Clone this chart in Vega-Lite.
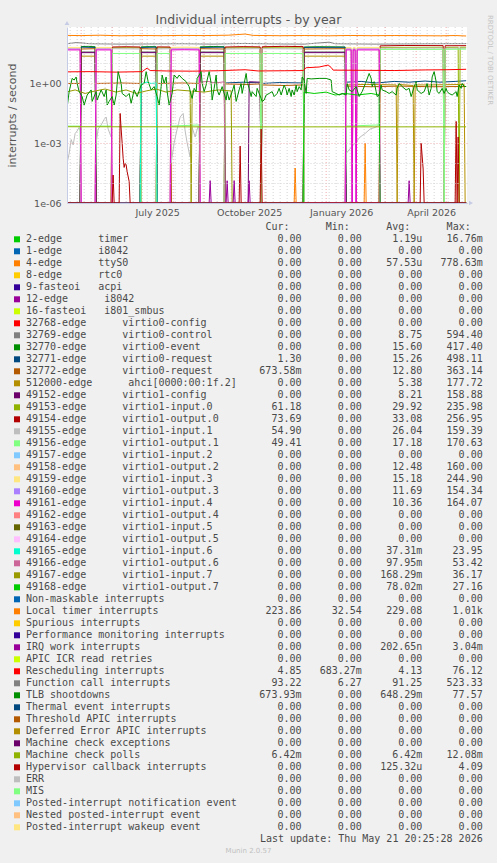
{
"$schema": "https://vega.github.io/schema/vega-lite/v6.json",
"autosize": {"type": "none"},
"width": 400,
"height": 176,
"padding": {"left": 67, "top": 27, "right": 30, "bottom": 660},
"background": "#f0f0f0",
"config": {"view": {"fill": "#ffffff", "stroke": null}, "font": "DejaVu Sans"},
"datasets": {
"weeks": [{"t":"2025-04-20"},{"t":"2025-04-27"},{"t":"2025-05-04"},{"t":"2025-05-11"},{"t":"2025-05-18"},{"t":"2025-05-25"},{"t":"2025-06-01"},{"t":"2025-06-08"},{"t":"2025-06-15"},{"t":"2025-06-22"},{"t":"2025-06-29"},{"t":"2025-07-06"},{"t":"2025-07-13"},{"t":"2025-07-20"},{"t":"2025-07-27"},{"t":"2025-08-03"},{"t":"2025-08-10"},{"t":"2025-08-17"},{"t":"2025-08-24"},{"t":"2025-08-31"},{"t":"2025-09-07"},{"t":"2025-09-14"},{"t":"2025-09-21"},{"t":"2025-09-28"},{"t":"2025-10-05"},{"t":"2025-10-12"},{"t":"2025-10-19"},{"t":"2025-10-26"},{"t":"2025-11-02"},{"t":"2025-11-09"},{"t":"2025-11-16"},{"t":"2025-11-23"},{"t":"2025-11-30"},{"t":"2025-12-07"},{"t":"2025-12-14"},{"t":"2025-12-21"},{"t":"2025-12-28"},{"t":"2026-01-04"},{"t":"2026-01-11"},{"t":"2026-01-18"},{"t":"2026-01-25"},{"t":"2026-02-01"},{"t":"2026-02-08"},{"t":"2026-02-15"},{"t":"2026-02-22"},{"t":"2026-03-01"},{"t":"2026-03-08"},{"t":"2026-03-15"},{"t":"2026-03-22"},{"t":"2026-03-29"},{"t":"2026-04-05"},{"t":"2026-04-12"},{"t":"2026-04-19"},{"t":"2026-04-26"},{"t":"2026-05-03"},{"t":"2026-05-10"},{"t":"2026-05-17"}],
"months": [{"t":"2025-05-01"},{"t":"2025-06-01"},{"t":"2025-07-01"},{"t":"2025-08-01"},{"t":"2025-09-01"},{"t":"2025-10-01"},{"t":"2025-11-01"},{"t":"2025-12-01"},{"t":"2026-01-01"},{"t":"2026-02-01"},{"t":"2026-03-01"},{"t":"2026-04-01"},{"t":"2026-05-01"}],
"series": [
{"s":"TTY","t":"2025-04-16","v":0},{"s":"TTY","t":"2025-11-30","v":0},{"s":"TTY","t":"2025-12-01","v":5.6e-5},{"s":"TTY","t":"2025-12-02","v":0},{"s":"TTY","t":"2026-02-08","v":0},{"s":"TTY","t":"2026-02-09","v":1e-3},{"s":"TTY","t":"2026-02-10","v":0},{"s":"TTY","t":"2026-05-21","v":0},

{"s":"CTL","t":"2025-04-16","v":0},{"s":"CTL","t":"2025-04-30","v":0},{"s":"CTL","t":"2025-05-01","v":36},{"s":"CTL","t":"2025-05-15","v":36},{"s":"CTL","t":"2025-05-16","v":0},{"s":"CTL","t":"2025-06-29","v":0},{"s":"CTL","t":"2025-06-30","v":36},{"s":"CTL","t":"2025-07-15","v":36},{"s":"CTL","t":"2025-07-16","v":0},{"s":"CTL","t":"2025-08-27","v":0},{"s":"CTL","t":"2025-08-28","v":36},{"s":"CTL","t":"2025-09-21","v":36},{"s":"CTL","t":"2025-09-22","v":0},{"s":"CTL","t":"2025-12-09","v":0},{"s":"CTL","t":"2025-12-10","v":36},{"s":"CTL","t":"2026-01-20","v":36},{"s":"CTL","t":"2026-01-21","v":0},{"s":"CTL","t":"2026-05-21","v":0},

{"s":"EV","t":"2025-04-16","v":0},{"s":"EV","t":"2025-04-30","v":0},{"s":"EV","t":"2025-05-01","v":66},{"s":"EV","t":"2025-05-08","v":68},{"s":"EV","t":"2025-05-15","v":65},{"s":"EV","t":"2025-05-16","v":0},{"s":"EV","t":"2025-06-29","v":0},{"s":"EV","t":"2025-06-30","v":64},{"s":"EV","t":"2025-07-08","v":66},{"s":"EV","t":"2025-07-15","v":65},{"s":"EV","t":"2025-07-16","v":0},{"s":"EV","t":"2025-08-27","v":0},{"s":"EV","t":"2025-08-28","v":64},{"s":"EV","t":"2025-09-10","v":67},{"s":"EV","t":"2025-09-21","v":65},{"s":"EV","t":"2025-09-22","v":0},{"s":"EV","t":"2025-12-09","v":0},{"s":"EV","t":"2025-12-10","v":63},{"s":"EV","t":"2025-12-25","v":65},{"s":"EV","t":"2026-01-10","v":64},{"s":"EV","t":"2026-01-20","v":63},{"s":"EV","t":"2026-01-21","v":0},{"s":"EV","t":"2026-05-21","v":0},

{"s":"RQ","t":"2025-04-16","v":0},{"s":"RQ","t":"2025-04-30","v":0},{"s":"RQ","t":"2025-05-01","v":62},{"s":"RQ","t":"2025-05-15","v":60},{"s":"RQ","t":"2025-05-16","v":0},{"s":"RQ","t":"2025-06-29","v":0},{"s":"RQ","t":"2025-06-30","v":60},{"s":"RQ","t":"2025-07-15","v":62},{"s":"RQ","t":"2025-07-16","v":0},{"s":"RQ","t":"2025-08-27","v":0},{"s":"RQ","t":"2025-08-28","v":60},{"s":"RQ","t":"2025-09-21","v":62},{"s":"RQ","t":"2025-09-22","v":1.0},{"s":"RQ","t":"2025-10-10","v":1.1},{"s":"RQ","t":"2025-10-27","v":1.0},{"s":"RQ","t":"2025-10-28","v":0},{"s":"RQ","t":"2025-10-29","v":0.95},{"s":"RQ","t":"2025-11-15","v":1.05},{"s":"RQ","t":"2025-12-09","v":1.0},{"s":"RQ","t":"2025-12-10","v":60},{"s":"RQ","t":"2026-01-20","v":61},{"s":"RQ","t":"2026-01-21","v":1.1},{"s":"RQ","t":"2026-02-05","v":1.2},{"s":"RQ","t":"2026-02-20","v":1.0},{"s":"RQ","t":"2026-03-10","v":1.2},{"s":"RQ","t":"2026-03-25","v":1.1},{"s":"RQ","t":"2026-04-10","v":1.25},{"s":"RQ","t":"2026-04-25","v":1.1},{"s":"RQ","t":"2026-05-10","v":1.2},{"s":"RQ","t":"2026-05-21","v":1.3},

{"s":"R2","t":"2025-04-16","v":0.95},{"s":"R2","t":"2025-04-30","v":0.95},{"s":"R2","t":"2025-05-01","v":50},{"s":"R2","t":"2025-05-15","v":52},{"s":"R2","t":"2025-05-16","v":0.95},{"s":"R2","t":"2025-06-10","v":1.0},{"s":"R2","t":"2025-06-29","v":0.95},{"s":"R2","t":"2025-06-30","v":52},{"s":"R2","t":"2025-07-15","v":50},{"s":"R2","t":"2025-07-16","v":0.95},{"s":"R2","t":"2025-08-10","v":1.0},{"s":"R2","t":"2025-08-27","v":0.95},{"s":"R2","t":"2025-08-28","v":52},{"s":"R2","t":"2025-09-21","v":50},{"s":"R2","t":"2025-09-22","v":0.9},{"s":"R2","t":"2025-10-15","v":0.85},{"s":"R2","t":"2025-10-27","v":0.9},{"s":"R2","t":"2025-10-28","v":0},{"s":"R2","t":"2025-10-29","v":0.8},{"s":"R2","t":"2025-11-20","v":0.75},{"s":"R2","t":"2025-12-09","v":0.8},{"s":"R2","t":"2025-12-10","v":50},{"s":"R2","t":"2026-01-20","v":52},{"s":"R2","t":"2026-01-21","v":0.7},{"s":"R2","t":"2026-02-15","v":0.65},{"s":"R2","t":"2026-03-15","v":0.7},{"s":"R2","t":"2026-04-15","v":0.65},{"s":"R2","t":"2026-05-21","v":0.67},

{"s":"AHCI","t":"2025-04-16","v":0},{"s":"AHCI","t":"2025-04-30","v":0},{"s":"AHCI","t":"2025-05-01","v":22},{"s":"AHCI","t":"2025-05-15","v":22},{"s":"AHCI","t":"2025-05-16","v":0},{"s":"AHCI","t":"2025-06-29","v":0},{"s":"AHCI","t":"2025-06-30","v":22},{"s":"AHCI","t":"2025-07-15","v":22},{"s":"AHCI","t":"2025-07-16","v":0},{"s":"AHCI","t":"2025-08-27","v":0},{"s":"AHCI","t":"2025-08-28","v":22},{"s":"AHCI","t":"2025-09-21","v":22},{"s":"AHCI","t":"2025-09-22","v":0},{"s":"AHCI","t":"2025-12-09","v":0},{"s":"AHCI","t":"2025-12-10","v":22},{"s":"AHCI","t":"2026-01-20","v":22},{"s":"AHCI","t":"2026-01-21","v":0.8},{"s":"AHCI","t":"2026-02-10","v":0.85},{"s":"AHCI","t":"2026-03-12","v":0.8},{"s":"AHCI","t":"2026-03-13","v":0},{"s":"AHCI","t":"2026-03-14","v":0.85},{"s":"AHCI","t":"2026-03-29","v":0.75},{"s":"AHCI","t":"2026-03-30","v":0},{"s":"AHCI","t":"2026-03-31","v":0.8},{"s":"AHCI","t":"2026-04-15","v":0.8},{"s":"AHCI","t":"2026-05-19","v":0.85},{"s":"AHCI","t":"2026-05-20","v":0},{"s":"AHCI","t":"2026-05-21","v":0},

{"s":"CFG1","t":"2025-04-16","v":0},{"s":"CFG1","t":"2025-04-30","v":0},{"s":"CFG1","t":"2025-05-01","v":33},{"s":"CFG1","t":"2025-05-15","v":33},{"s":"CFG1","t":"2025-05-16","v":0},{"s":"CFG1","t":"2025-06-29","v":0},{"s":"CFG1","t":"2025-06-30","v":33},{"s":"CFG1","t":"2025-07-15","v":33},{"s":"CFG1","t":"2025-07-16","v":0},{"s":"CFG1","t":"2025-08-27","v":0},{"s":"CFG1","t":"2025-08-28","v":33},{"s":"CFG1","t":"2025-09-21","v":33},{"s":"CFG1","t":"2025-09-22","v":0},{"s":"CFG1","t":"2025-10-15","v":0},{"s":"CFG1","t":"2025-10-16","v":1.15},{"s":"CFG1","t":"2025-10-27","v":1.1},{"s":"CFG1","t":"2025-10-28","v":0},{"s":"CFG1","t":"2025-12-09","v":0},{"s":"CFG1","t":"2025-12-10","v":33},{"s":"CFG1","t":"2026-01-20","v":33},{"s":"CFG1","t":"2026-01-21","v":0},{"s":"CFG1","t":"2026-05-21","v":0},

{"s":"I0","t":"2025-04-16","v":0},{"s":"I0","t":"2025-05-31","v":0},{"s":"I0","t":"2025-06-01","v":57},{"s":"I0","t":"2025-06-15","v":58},{"s":"I0","t":"2025-06-29","v":57},{"s":"I0","t":"2025-06-30","v":0},{"s":"I0","t":"2025-07-15","v":0},{"s":"I0","t":"2025-07-16","v":57},{"s":"I0","t":"2025-07-29","v":58},{"s":"I0","t":"2025-07-30","v":0},{"s":"I0","t":"2025-09-21","v":0},{"s":"I0","t":"2025-09-22","v":57},{"s":"I0","t":"2025-10-27","v":58},{"s":"I0","t":"2025-10-28","v":0},{"s":"I0","t":"2025-10-29","v":58},{"s":"I0","t":"2025-12-09","v":57},{"s":"I0","t":"2025-12-10","v":0},{"s":"I0","t":"2026-02-23","v":0},{"s":"I0","t":"2026-02-24","v":60},{"s":"I0","t":"2026-04-28","v":61},{"s":"I0","t":"2026-04-29","v":0},{"s":"I0","t":"2026-04-30","v":60},{"s":"I0","t":"2026-05-13","v":61},{"s":"I0","t":"2026-05-14","v":0},{"s":"I0","t":"2026-05-15","v":61},{"s":"I0","t":"2026-05-21","v":61.2},

{"s":"O0","t":"2025-04-16","v":0},{"s":"O0","t":"2025-05-31","v":0},{"s":"O0","t":"2025-06-01","v":63},{"s":"O0","t":"2025-06-15","v":65},{"s":"O0","t":"2025-06-29","v":63},{"s":"O0","t":"2025-06-30","v":0},{"s":"O0","t":"2025-07-15","v":0},{"s":"O0","t":"2025-07-16","v":64},{"s":"O0","t":"2025-07-29","v":63},{"s":"O0","t":"2025-07-30","v":0},{"s":"O0","t":"2025-09-21","v":0},{"s":"O0","t":"2025-09-22","v":63},{"s":"O0","t":"2025-10-10","v":66},{"s":"O0","t":"2025-10-27","v":64},{"s":"O0","t":"2025-10-28","v":0},{"s":"O0","t":"2025-10-29","v":65},{"s":"O0","t":"2025-11-20","v":68},{"s":"O0","t":"2025-12-09","v":66},{"s":"O0","t":"2025-12-10","v":0},{"s":"O0","t":"2026-02-23","v":0},{"s":"O0","t":"2026-02-24","v":72},{"s":"O0","t":"2026-03-20","v":75},{"s":"O0","t":"2026-04-28","v":74},{"s":"O0","t":"2026-04-29","v":0},{"s":"O0","t":"2026-04-30","v":73},{"s":"O0","t":"2026-05-21","v":73.7},

{"s":"I1","t":"2025-04-16","v":0},{"s":"I1","t":"2025-04-17","v":1e-4},{"s":"I1","t":"2025-04-19","v":3e-4},{"s":"I1","t":"2025-04-21","v":1.5e-3},{"s":"I1","t":"2025-04-23","v":8e-4},{"s":"I1","t":"2025-04-25","v":3e-3},{"s":"I1","t":"2025-04-27","v":4e-3},{"s":"I1","t":"2025-04-29","v":6e-3},{"s":"I1","t":"2025-04-30","v":4e-3},{"s":"I1","t":"2025-05-01","v":0},{"s":"I1","t":"2025-05-15","v":0},{"s":"I1","t":"2025-05-16","v":1e-3},{"s":"I1","t":"2025-05-18","v":5e-3},{"s":"I1","t":"2025-05-21","v":8e-3},{"s":"I1","t":"2025-05-24","v":0.015},{"s":"I1","t":"2025-05-26","v":0.02},{"s":"I1","t":"2025-05-28","v":5e-3},{"s":"I1","t":"2025-05-31","v":2e-3},{"s":"I1","t":"2025-06-01","v":52},{"s":"I1","t":"2025-06-29","v":50},{"s":"I1","t":"2025-06-30","v":0},{"s":"I1","t":"2025-07-15","v":0},{"s":"I1","t":"2025-07-16","v":50},{"s":"I1","t":"2025-07-29","v":52},{"s":"I1","t":"2025-07-30","v":1e-4},{"s":"I1","t":"2025-08-02","v":1e-3},{"s":"I1","t":"2025-08-05","v":5e-3},{"s":"I1","t":"2025-08-08","v":0.02},{"s":"I1","t":"2025-08-11","v":0.03},{"s":"I1","t":"2025-08-13","v":4e-3},{"s":"I1","t":"2025-08-15","v":1e-3},{"s":"I1","t":"2025-08-18","v":2e-4},{"s":"I1","t":"2025-08-20","v":6e-3},{"s":"I1","t":"2025-08-23","v":2e-3},{"s":"I1","t":"2025-08-26","v":7e-3},{"s":"I1","t":"2025-08-27","v":5e-3},{"s":"I1","t":"2025-08-28","v":0},{"s":"I1","t":"2025-09-21","v":0},{"s":"I1","t":"2025-09-22","v":50},{"s":"I1","t":"2025-10-27","v":52},{"s":"I1","t":"2025-10-28","v":0},{"s":"I1","t":"2025-10-29","v":52},{"s":"I1","t":"2025-12-09","v":50},{"s":"I1","t":"2025-12-10","v":0},{"s":"I1","t":"2026-01-20","v":0},{"s":"I1","t":"2026-01-21","v":3e-4},{"s":"I1","t":"2026-01-26","v":6e-4},{"s":"I1","t":"2026-01-30","v":1e-3},{"s":"I1","t":"2026-02-04","v":2e-3},{"s":"I1","t":"2026-02-09","v":3e-3},{"s":"I1","t":"2026-02-14","v":5e-3},{"s":"I1","t":"2026-02-19","v":6e-3},{"s":"I1","t":"2026-02-23","v":8e-3},{"s":"I1","t":"2026-02-24","v":55},{"s":"I1","t":"2026-04-28","v":56},{"s":"I1","t":"2026-04-29","v":0},{"s":"I1","t":"2026-04-30","v":55},{"s":"I1","t":"2026-05-21","v":54.9},

{"s":"O1","t":"2025-04-16","v":0},{"s":"O1","t":"2025-04-17","v":0.007},{"s":"O1","t":"2025-04-30","v":0.007},{"s":"O1","t":"2025-05-01","v":0},{"s":"O1","t":"2025-05-15","v":0},{"s":"O1","t":"2025-05-16","v":0.007},{"s":"O1","t":"2025-05-31","v":0.007},{"s":"O1","t":"2025-06-01","v":30},{"s":"O1","t":"2025-06-29","v":30},{"s":"O1","t":"2025-06-30","v":0},{"s":"O1","t":"2025-07-15","v":0},{"s":"O1","t":"2025-07-16","v":30},{"s":"O1","t":"2025-07-29","v":30},{"s":"O1","t":"2025-07-30","v":0.007},{"s":"O1","t":"2025-08-27","v":0.008},{"s":"O1","t":"2025-08-28","v":0},{"s":"O1","t":"2025-09-21","v":0},{"s":"O1","t":"2025-09-22","v":30},{"s":"O1","t":"2025-10-27","v":30},{"s":"O1","t":"2025-10-28","v":0},{"s":"O1","t":"2025-10-29","v":30},{"s":"O1","t":"2025-12-09","v":30},{"s":"O1","t":"2025-12-10","v":0},{"s":"O1","t":"2026-01-20","v":0},{"s":"O1","t":"2026-01-21","v":0.007},{"s":"O1","t":"2026-02-23","v":0.008},{"s":"O1","t":"2026-02-24","v":48},{"s":"O1","t":"2026-04-28","v":48},{"s":"O1","t":"2026-04-29","v":0},{"s":"O1","t":"2026-04-30","v":48},{"s":"O1","t":"2026-05-21","v":49.4},

{"s":"O2","t":"2025-04-16","v":0},{"s":"O2","t":"2025-04-17","v":55},{"s":"O2","t":"2025-04-30","v":55},{"s":"O2","t":"2025-05-01","v":0},{"s":"O2","t":"2025-05-15","v":0},{"s":"O2","t":"2025-05-16","v":55},{"s":"O2","t":"2025-05-31","v":55},{"s":"O2","t":"2025-06-01","v":0},{"s":"O2","t":"2025-07-29","v":0},{"s":"O2","t":"2025-07-30","v":55},{"s":"O2","t":"2025-08-12","v":56},{"s":"O2","t":"2025-08-27","v":55},{"s":"O2","t":"2025-08-28","v":0},{"s":"O2","t":"2026-01-20","v":0},{"s":"O2","t":"2026-01-21","v":55},{"s":"O2","t":"2026-01-26","v":55},{"s":"O2","t":"2026-01-27","v":0},{"s":"O2","t":"2026-01-28","v":55},{"s":"O2","t":"2026-01-30","v":55},{"s":"O2","t":"2026-01-31","v":0},{"s":"O2","t":"2026-02-01","v":55},{"s":"O2","t":"2026-02-23","v":55},{"s":"O2","t":"2026-02-24","v":0},{"s":"O2","t":"2026-05-21","v":0},

{"s":"I3","t":"2025-04-16","v":0},{"s":"I3","t":"2025-04-17","v":60},{"s":"I3","t":"2025-04-30","v":60},{"s":"I3","t":"2025-05-01","v":0},{"s":"I3","t":"2025-05-15","v":0},{"s":"I3","t":"2025-05-16","v":60},{"s":"I3","t":"2025-05-31","v":60},{"s":"I3","t":"2025-06-01","v":0},{"s":"I3","t":"2025-07-29","v":0},{"s":"I3","t":"2025-07-30","v":60},{"s":"I3","t":"2025-08-12","v":62},{"s":"I3","t":"2025-08-27","v":60},{"s":"I3","t":"2025-08-28","v":0},{"s":"I3","t":"2026-01-20","v":0},{"s":"I3","t":"2026-01-21","v":60},{"s":"I3","t":"2026-01-26","v":60},{"s":"I3","t":"2026-01-27","v":0},{"s":"I3","t":"2026-01-28","v":60},{"s":"I3","t":"2026-01-30","v":60},{"s":"I3","t":"2026-01-31","v":0},{"s":"I3","t":"2026-02-01","v":60},{"s":"I3","t":"2026-02-23","v":60},{"s":"I3","t":"2026-02-24","v":0},{"s":"I3","t":"2026-05-21","v":0},

{"s":"O3","t":"2025-04-16","v":0},{"s":"O3","t":"2025-04-17","v":50},{"s":"O3","t":"2025-04-30","v":50},{"s":"O3","t":"2025-05-01","v":0},{"s":"O3","t":"2025-05-15","v":0},{"s":"O3","t":"2025-05-16","v":50},{"s":"O3","t":"2025-05-31","v":50},{"s":"O3","t":"2025-06-01","v":0},{"s":"O3","t":"2025-07-29","v":0},{"s":"O3","t":"2025-07-30","v":50},{"s":"O3","t":"2025-08-12","v":51},{"s":"O3","t":"2025-08-27","v":50},{"s":"O3","t":"2025-08-28","v":0},{"s":"O3","t":"2026-01-20","v":0},{"s":"O3","t":"2026-01-21","v":50},{"s":"O3","t":"2026-01-26","v":50},{"s":"O3","t":"2026-01-27","v":0},{"s":"O3","t":"2026-01-28","v":50},{"s":"O3","t":"2026-01-30","v":50},{"s":"O3","t":"2026-01-31","v":0},{"s":"O3","t":"2026-02-01","v":50},{"s":"O3","t":"2026-02-23","v":50},{"s":"O3","t":"2026-02-24","v":0},{"s":"O3","t":"2026-05-21","v":0},

{"s":"I4","t":"2025-04-16","v":0},{"s":"I4","t":"2025-04-17","v":45},{"s":"I4","t":"2025-04-30","v":45},{"s":"I4","t":"2025-05-01","v":0},{"s":"I4","t":"2025-05-15","v":0},{"s":"I4","t":"2025-05-16","v":45},{"s":"I4","t":"2025-05-31","v":45},{"s":"I4","t":"2025-06-01","v":0},{"s":"I4","t":"2025-07-29","v":0},{"s":"I4","t":"2025-07-30","v":45},{"s":"I4","t":"2025-08-12","v":46},{"s":"I4","t":"2025-08-27","v":45},{"s":"I4","t":"2025-08-28","v":0},{"s":"I4","t":"2026-01-20","v":0},{"s":"I4","t":"2026-01-21","v":45},{"s":"I4","t":"2026-01-26","v":45},{"s":"I4","t":"2026-01-27","v":0},{"s":"I4","t":"2026-01-28","v":45},{"s":"I4","t":"2026-01-30","v":45},{"s":"I4","t":"2026-01-31","v":0},{"s":"I4","t":"2026-02-01","v":45},{"s":"I4","t":"2026-02-23","v":45},{"s":"I4","t":"2026-02-24","v":0},{"s":"I4","t":"2026-05-21","v":0},

{"s":"I6","t":"2025-04-16","v":0},{"s":"I6","t":"2025-06-29","v":0},{"s":"I6","t":"2025-06-30","v":0.9},{"s":"I6","t":"2025-07-05","v":1.1},{"s":"I6","t":"2025-07-10","v":0.95},{"s":"I6","t":"2025-07-15","v":1.0},{"s":"I6","t":"2025-07-16","v":0},{"s":"I6","t":"2026-05-21","v":0},

{"s":"O6","t":"2025-04-16","v":0},{"s":"O6","t":"2025-08-27","v":0},{"s":"O6","t":"2025-08-28","v":1.1},{"s":"O6","t":"2025-09-05","v":1.2},{"s":"O6","t":"2025-09-12","v":1.0},{"s":"O6","t":"2025-09-21","v":1.15},{"s":"O6","t":"2025-09-22","v":0},{"s":"O6","t":"2026-05-21","v":0},

{"s":"I7","t":"2025-04-16","v":0.35},{"s":"I7","t":"2025-04-25","v":0.45},{"s":"I7","t":"2025-05-05","v":0.3},{"s":"I7","t":"2025-05-15","v":0.4},{"s":"I7","t":"2025-05-25","v":0.5},{"s":"I7","t":"2025-06-05","v":0.35},{"s":"I7","t":"2025-06-15","v":0.45},{"s":"I7","t":"2025-06-25","v":0.3},{"s":"I7","t":"2025-07-05","v":0.4},{"s":"I7","t":"2025-07-15","v":0.5},{"s":"I7","t":"2025-07-25","v":0.35},{"s":"I7","t":"2025-08-05","v":0.45},{"s":"I7","t":"2025-08-18","v":0.4},{"s":"I7","t":"2025-08-19","v":0},{"s":"I7","t":"2025-08-20","v":0.4},{"s":"I7","t":"2025-09-01","v":0.35},{"s":"I7","t":"2025-09-15","v":0.45},{"s":"I7","t":"2025-09-28","v":0.4},{"s":"I7","t":"2025-09-29","v":0},{"s":"I7","t":"2026-05-21","v":0},

{"s":"O7","t":"2025-04-16","v":0},{"s":"O7","t":"2025-12-09","v":0},{"s":"O7","t":"2025-12-10","v":0.35},{"s":"O7","t":"2025-12-20","v":0.3},{"s":"O7","t":"2026-01-01","v":0.35},{"s":"O7","t":"2026-01-10","v":0.25},{"s":"O7","t":"2026-01-20","v":0.3},{"s":"O7","t":"2026-02-01","v":0.25},{"s":"O7","t":"2026-02-15","v":0.3},{"s":"O7","t":"2026-02-23","v":0.25},{"s":"O7","t":"2026-02-24","v":0},{"s":"O7","t":"2026-05-21","v":0},

{"s":"LOC","t":"2025-04-16","v":240},{"s":"LOC","t":"2025-05-01","v":235},{"s":"LOC","t":"2025-05-20","v":245},{"s":"LOC","t":"2025-06-10","v":230},{"s":"LOC","t":"2025-07-01","v":238},{"s":"LOC","t":"2025-07-20","v":232},{"s":"LOC","t":"2025-08-10","v":240},{"s":"LOC","t":"2025-09-01","v":235},{"s":"LOC","t":"2025-09-25","v":245},{"s":"LOC","t":"2025-10-12","v":280},{"s":"LOC","t":"2025-10-20","v":240},{"s":"LOC","t":"2025-11-15","v":232},{"s":"LOC","t":"2025-12-10","v":236},{"s":"LOC","t":"2026-01-05","v":230},{"s":"LOC","t":"2026-01-25","v":238},{"s":"LOC","t":"2026-02-15","v":232},{"s":"LOC","t":"2026-03-10","v":236},{"s":"LOC","t":"2026-04-05","v":232},{"s":"LOC","t":"2026-04-25","v":228},{"s":"LOC","t":"2026-05-10","v":236},{"s":"LOC","t":"2026-05-21","v":224},

{"s":"IWI","t":"2025-04-16","v":0},{"s":"IWI","t":"2025-09-06","v":0},{"s":"IWI","t":"2025-09-07","v":1.3e-5},{"s":"IWI","t":"2025-09-08","v":0},{"s":"IWI","t":"2025-09-23","v":0},{"s":"IWI","t":"2025-09-24","v":1.3e-5},{"s":"IWI","t":"2025-09-25","v":0},{"s":"IWI","t":"2025-09-30","v":0},{"s":"IWI","t":"2025-10-01","v":1.3e-5},{"s":"IWI","t":"2025-10-02","v":0},{"s":"IWI","t":"2025-10-15","v":0},{"s":"IWI","t":"2025-10-16","v":1.3e-5},{"s":"IWI","t":"2025-10-17","v":0},{"s":"IWI","t":"2026-03-24","v":0},{"s":"IWI","t":"2026-03-25","v":1.3e-5},{"s":"IWI","t":"2026-03-26","v":0},{"s":"IWI","t":"2026-05-21","v":0},

{"s":"RES","t":"2025-04-16","v":3.6},{"s":"RES","t":"2025-05-10","v":3.7},{"s":"RES","t":"2025-06-05","v":3.5},{"s":"RES","t":"2025-07-01","v":3.7},{"s":"RES","t":"2025-07-06","v":5.6},{"s":"RES","t":"2025-07-09","v":4.2},{"s":"RES","t":"2025-07-25","v":4.0},{"s":"RES","t":"2025-08-20","v":3.9},{"s":"RES","t":"2025-09-15","v":4.1},{"s":"RES","t":"2025-10-12","v":4.6},{"s":"RES","t":"2025-10-25","v":4.0},{"s":"RES","t":"2025-11-20","v":4.1},{"s":"RES","t":"2025-12-09","v":4.2},{"s":"RES","t":"2025-12-12","v":5.8},{"s":"RES","t":"2025-12-25","v":6.3},{"s":"RES","t":"2026-01-03","v":7.9},{"s":"RES","t":"2026-01-06","v":6.0},{"s":"RES","t":"2026-01-08","v":4.4},{"s":"RES","t":"2026-02-10","v":4.3},{"s":"RES","t":"2026-03-10","v":4.2},{"s":"RES","t":"2026-04-10","v":4.5},{"s":"RES","t":"2026-05-01","v":4.6},{"s":"RES","t":"2026-05-21","v":4.85},

{"s":"CAL","t":"2025-04-16","v":90},{"s":"CAL","t":"2025-04-26","v":105},{"s":"CAL","t":"2025-05-10","v":92},{"s":"CAL","t":"2025-06-10","v":88},{"s":"CAL","t":"2025-07-10","v":90},{"s":"CAL","t":"2025-08-10","v":92},{"s":"CAL","t":"2025-09-10","v":88},{"s":"CAL","t":"2025-10-10","v":95},{"s":"CAL","t":"2025-11-10","v":90},{"s":"CAL","t":"2025-12-10","v":88},{"s":"CAL","t":"2026-01-04","v":110},{"s":"CAL","t":"2026-01-10","v":92},{"s":"CAL","t":"2026-02-20","v":88},{"s":"CAL","t":"2026-03-20","v":90},{"s":"CAL","t":"2026-04-20","v":92},{"s":"CAL","t":"2026-05-21","v":93},

{"s":"TLB","t":"2025-04-16","v":0.025},{"s":"TLB","t":"2025-04-19","v":0.37},{"s":"TLB","t":"2025-04-22","v":1.7},{"s":"TLB","t":"2025-04-24","v":1.4},{"s":"TLB","t":"2025-04-26","v":2.0},{"s":"TLB","t":"2025-04-27","v":0.96},{"s":"TLB","t":"2025-04-29","v":0.37},{"s":"TLB","t":"2025-05-02","v":0.21},{"s":"TLB","t":"2025-05-04","v":0.079},{"s":"TLB","t":"2025-05-07","v":0.25},{"s":"TLB","t":"2025-05-11","v":0.45},{"s":"TLB","t":"2025-05-12","v":0.12},{"s":"TLB","t":"2025-05-16","v":0.37},{"s":"TLB","t":"2025-05-17","v":0.14},{"s":"TLB","t":"2025-05-21","v":0.45},{"s":"TLB","t":"2025-05-24","v":0.21},{"s":"TLB","t":"2025-05-26","v":0.45},{"s":"TLB","t":"2025-05-27","v":0.079},{"s":"TLB","t":"2025-05-29","v":0.12},{"s":"TLB","t":"2025-06-01","v":0.21},{"s":"TLB","t":"2025-06-03","v":0.079},{"s":"TLB","t":"2025-06-05","v":0.25},{"s":"TLB","t":"2025-06-07","v":3.7},{"s":"TLB","t":"2025-06-10","v":0.96},{"s":"TLB","t":"2025-06-11","v":0.30},{"s":"TLB","t":"2025-06-15","v":0.21},{"s":"TLB","t":"2025-06-18","v":0.30},{"s":"TLB","t":"2025-06-20","v":0.096},{"s":"TLB","t":"2025-06-23","v":0.45},{"s":"TLB","t":"2025-06-26","v":0.21},{"s":"TLB","t":"2025-06-30","v":0.79},{"s":"TLB","t":"2025-07-03","v":0.96},{"s":"TLB","t":"2025-07-05","v":3.7},{"s":"TLB","t":"2025-07-07","v":1.17},{"s":"TLB","t":"2025-07-10","v":0.45},{"s":"TLB","t":"2025-07-13","v":0.66},{"s":"TLB","t":"2025-07-16","v":0.21},{"s":"TLB","t":"2025-07-18","v":0.079},{"s":"TLB","t":"2025-07-20","v":0.66},{"s":"TLB","t":"2025-07-21","v":2.5},{"s":"TLB","t":"2025-07-23","v":0.96},{"s":"TLB","t":"2025-07-25","v":2.0},{"s":"TLB","t":"2025-07-26","v":0.37},{"s":"TLB","t":"2025-07-28","v":0.079},{"s":"TLB","t":"2025-07-31","v":0.30},{"s":"TLB","t":"2025-08-02","v":2.5},{"s":"TLB","t":"2025-08-05","v":1.7},{"s":"TLB","t":"2025-08-07","v":2.5},{"s":"TLB","t":"2025-08-10","v":1.7},{"s":"TLB","t":"2025-08-14","v":1.17},{"s":"TLB","t":"2025-08-17","v":0.66},{"s":"TLB","t":"2025-08-19","v":0.25},{"s":"TLB","t":"2025-08-20","v":0.17},{"s":"TLB","t":"2025-08-22","v":0.54},{"s":"TLB","t":"2025-08-24","v":0.37},{"s":"TLB","t":"2025-08-25","v":1.7},{"s":"TLB","t":"2025-08-29","v":3.7},{"s":"TLB","t":"2025-08-30","v":0.96},{"s":"TLB","t":"2025-09-01","v":0.37},{"s":"TLB","t":"2025-09-03","v":0.79},{"s":"TLB","t":"2025-09-04","v":1.41},{"s":"TLB","t":"2025-09-06","v":3.7},{"s":"TLB","t":"2025-09-08","v":0.96},{"s":"TLB","t":"2025-09-09","v":0.14},{"s":"TLB","t":"2025-09-11","v":0.54},{"s":"TLB","t":"2025-09-13","v":2.5},{"s":"TLB","t":"2025-09-14","v":0.45},{"s":"TLB","t":"2025-09-16","v":0.25},{"s":"TLB","t":"2025-09-19","v":0.66},{"s":"TLB","t":"2025-09-23","v":0.14},{"s":"TLB","t":"2025-09-24","v":0.37},{"s":"TLB","t":"2025-09-26","v":0.14},{"s":"TLB","t":"2025-09-29","v":0.37},{"s":"TLB","t":"2025-10-01","v":0.79},{"s":"TLB","t":"2025-10-03","v":0.12},{"s":"TLB","t":"2025-10-06","v":0.45},{"s":"TLB","t":"2025-10-08","v":0.96},{"s":"TLB","t":"2025-10-09","v":0.30},{"s":"TLB","t":"2025-10-13","v":3.0},{"s":"TLB","t":"2025-10-14","v":1.17},{"s":"TLB","t":"2025-10-16","v":0.54},{"s":"TLB","t":"2025-10-18","v":0.21},{"s":"TLB","t":"2025-10-19","v":0.37},{"s":"TLB","t":"2025-10-23","v":0.21},{"s":"TLB","t":"2025-10-24","v":0.54},{"s":"TLB","t":"2025-10-26","v":0.30},{"s":"TLB","t":"2025-10-28","v":0.17},{"s":"TLB","t":"2025-10-29","v":0.12},{"s":"TLB","t":"2025-10-31","v":0.14},{"s":"TLB","t":"2025-11-02","v":0.25},{"s":"TLB","t":"2025-11-05","v":0.30},{"s":"TLB","t":"2025-11-08","v":0.37},{"s":"TLB","t":"2025-11-10","v":0.21},{"s":"TLB","t":"2025-11-13","v":0.30},{"s":"TLB","t":"2025-11-15","v":0.54},{"s":"TLB","t":"2025-11-17","v":0.25},{"s":"TLB","t":"2025-11-20","v":0.79},{"s":"TLB","t":"2025-11-22","v":0.45},{"s":"TLB","t":"2025-11-23","v":0.25},{"s":"TLB","t":"2025-11-25","v":0.54},{"s":"TLB","t":"2025-11-27","v":0.21},{"s":"TLB","t":"2025-11-28","v":0.45},{"s":"TLB","t":"2025-11-30","v":0.25},{"s":"TLB","t":"2025-12-02","v":0.79},{"s":"TLB","t":"2025-12-03","v":0.37},{"s":"TLB","t":"2025-12-05","v":0.66},{"s":"TLB","t":"2025-12-07","v":0.45},{"s":"TLB","t":"2025-12-08","v":2.0},{"s":"TLB","t":"2025-12-10","v":1.41},{"s":"TLB","t":"2025-12-12","v":0.30},{"s":"TLB","t":"2025-12-13","v":1.7},{"s":"TLB","t":"2025-12-17","v":1.6},{"s":"TLB","t":"2025-12-25","v":1.7},{"s":"TLB","t":"2026-01-01","v":1.7},{"s":"TLB","t":"2026-01-06","v":1.41},{"s":"TLB","t":"2026-01-07","v":0.37},{"s":"TLB","t":"2026-01-11","v":0.30},{"s":"TLB","t":"2026-01-14","v":0.25},{"s":"TLB","t":"2026-01-17","v":0.30},{"s":"TLB","t":"2026-01-21","v":0.25},{"s":"TLB","t":"2026-01-22","v":0.96},{"s":"TLB","t":"2026-01-24","v":0.45},{"s":"TLB","t":"2026-01-27","v":0.37},{"s":"TLB","t":"2026-01-31","v":0.66},{"s":"TLB","t":"2026-02-03","v":0.21},{"s":"TLB","t":"2026-02-06","v":0.37},{"s":"TLB","t":"2026-02-10","v":1.17},{"s":"TLB","t":"2026-02-13","v":3.0},{"s":"TLB","t":"2026-02-15","v":1.7},{"s":"TLB","t":"2026-02-16","v":0.66},{"s":"TLB","t":"2026-02-18","v":1.17},{"s":"TLB","t":"2026-02-20","v":0.37},{"s":"TLB","t":"2026-02-21","v":0.21},{"s":"TLB","t":"2026-02-23","v":0.25},{"s":"TLB","t":"2026-02-25","v":0.79},{"s":"TLB","t":"2026-02-26","v":0.45},{"s":"TLB","t":"2026-03-02","v":0.37},{"s":"TLB","t":"2026-03-05","v":0.30},{"s":"TLB","t":"2026-03-08","v":0.37},{"s":"TLB","t":"2026-03-12","v":0.25},{"s":"TLB","t":"2026-03-13","v":0.54},{"s":"TLB","t":"2026-03-15","v":0.96},{"s":"TLB","t":"2026-03-18","v":0.66},{"s":"TLB","t":"2026-03-22","v":0.45},{"s":"TLB","t":"2026-03-25","v":0.54},{"s":"TLB","t":"2026-03-27","v":0.21},{"s":"TLB","t":"2026-03-28","v":0.30},{"s":"TLB","t":"2026-03-30","v":0.66},{"s":"TLB","t":"2026-04-01","v":1.17},{"s":"TLB","t":"2026-04-02","v":0.45},{"s":"TLB","t":"2026-04-06","v":0.30},{"s":"TLB","t":"2026-04-09","v":0.37},{"s":"TLB","t":"2026-04-12","v":0.96},{"s":"TLB","t":"2026-04-14","v":0.25},{"s":"TLB","t":"2026-04-16","v":0.54},{"s":"TLB","t":"2026-04-17","v":2.0},{"s":"TLB","t":"2026-04-19","v":3.7},{"s":"TLB","t":"2026-04-21","v":1.17},{"s":"TLB","t":"2026-04-22","v":0.37},{"s":"TLB","t":"2026-04-24","v":0.30},{"s":"TLB","t":"2026-04-27","v":0.54},{"s":"TLB","t":"2026-04-29","v":0.30},{"s":"TLB","t":"2026-05-01","v":0.54},{"s":"TLB","t":"2026-05-02","v":0.37},{"s":"TLB","t":"2026-05-04","v":0.30},{"s":"TLB","t":"2026-05-07","v":0.25},{"s":"TLB","t":"2026-05-11","v":0.37},{"s":"TLB","t":"2026-05-12","v":0.21},{"s":"TLB","t":"2026-05-14","v":0.79},{"s":"TLB","t":"2026-05-16","v":0.54},{"s":"TLB","t":"2026-05-17","v":0.96},{"s":"TLB","t":"2026-05-19","v":0.66},{"s":"TLB","t":"2026-05-21","v":0.67},

{"s":"MCP","t":"2025-04-16","v":0.0065},{"s":"MCP","t":"2025-10-01","v":0.0064},{"s":"MCP","t":"2026-05-21","v":0.00642},

{"s":"HYP","t":"2025-04-16","v":0},{"s":"HYP","t":"2025-06-01","v":0},{"s":"HYP","t":"2025-06-02","v":2.5e-5},{"s":"HYP","t":"2025-06-03","v":0},{"s":"HYP","t":"2025-06-08","v":0},{"s":"HYP","t":"2025-06-09","v":0.03},{"s":"HYP","t":"2025-06-10","v":5e-3},{"s":"HYP","t":"2025-06-11","v":1e-3},{"s":"HYP","t":"2025-06-12","v":1.7e-4},{"s":"HYP","t":"2025-06-13","v":6e-5},{"s":"HYP","t":"2025-06-14","v":1e-4},{"s":"HYP","t":"2025-06-15","v":8e-5},{"s":"HYP","t":"2025-06-16","v":3.7e-5},{"s":"HYP","t":"2025-06-18","v":1.2e-5},{"s":"HYP","t":"2025-06-19","v":0},{"s":"HYP","t":"2025-10-06","v":0},{"s":"HYP","t":"2025-10-07","v":7e-4},{"s":"HYP","t":"2025-10-08","v":0},{"s":"HYP","t":"2025-10-27","v":0},{"s":"HYP","t":"2025-10-28","v":5e-3},{"s":"HYP","t":"2025-10-29","v":0},{"s":"HYP","t":"2026-04-05","v":0},{"s":"HYP","t":"2026-04-06","v":1e-3},{"s":"HYP","t":"2026-04-08","v":5e-5},{"s":"HYP","t":"2026-04-09","v":0},{"s":"HYP","t":"2026-05-10","v":0},{"s":"HYP","t":"2026-05-11","v":0.012},{"s":"HYP","t":"2026-05-12","v":0},{"s":"HYP","t":"2026-05-13","v":2e-3},{"s":"HYP","t":"2026-05-14","v":0},{"s":"HYP","t":"2026-05-21","v":0}
],
"legend": [
{"n":1,"s":"TIMER","lab":"2-edge\u00a0\u00a0\u00a0\u00a0\u00a0\u00a0timer","cur":"0.00\u00a0","min":"0.00\u00a0","avg":"1.19u","max":"16.76m"},
{"n":2,"s":"KBD","lab":"1-edge\u00a0\u00a0\u00a0\u00a0\u00a0\u00a0i8042","cur":"0.00\u00a0","min":"0.00\u00a0","avg":"0.00\u00a0","max":"0.00\u00a0"},
{"n":3,"s":"TTY","lab":"4-edge\u00a0\u00a0\u00a0\u00a0\u00a0\u00a0ttyS0","cur":"0.00\u00a0","min":"0.00\u00a0","avg":"57.53u","max":"778.63m"},
{"n":4,"s":"RTC","lab":"8-edge\u00a0\u00a0\u00a0\u00a0\u00a0\u00a0rtc0","cur":"0.00\u00a0","min":"0.00\u00a0","avg":"0.00\u00a0","max":"0.00\u00a0"},
{"n":5,"s":"ACPI","lab":"9-fasteoi\u00a0\u00a0\u00a0acpi","cur":"0.00\u00a0","min":"0.00\u00a0","avg":"0.00\u00a0","max":"0.00\u00a0"},
{"n":6,"s":"MOUSE","lab":"12-edge\u00a0\u00a0\u00a0\u00a0\u00a0\u00a0i8042","cur":"0.00\u00a0","min":"0.00\u00a0","avg":"0.00\u00a0","max":"0.00\u00a0"},
{"n":7,"s":"SMB","lab":"16-fasteoi\u00a0\u00a0\u00a0i801_smbus","cur":"0.00\u00a0","min":"0.00\u00a0","avg":"0.00\u00a0","max":"0.00\u00a0"},
{"n":8,"s":"CFG0","lab":"32768-edge\u00a0\u00a0\u00a0\u00a0\u00a0\u00a0virtio0-config","cur":"0.00\u00a0","min":"0.00\u00a0","avg":"0.00\u00a0","max":"0.00\u00a0"},
{"n":9,"s":"CTL","lab":"32769-edge\u00a0\u00a0\u00a0\u00a0\u00a0\u00a0virtio0-control","cur":"0.00\u00a0","min":"0.00\u00a0","avg":"8.75\u00a0","max":"594.40\u00a0"},
{"n":10,"s":"EV","lab":"32770-edge\u00a0\u00a0\u00a0\u00a0\u00a0\u00a0virtio0-event","cur":"0.00\u00a0","min":"0.00\u00a0","avg":"15.60\u00a0","max":"417.40\u00a0"},
{"n":11,"s":"RQ","lab":"32771-edge\u00a0\u00a0\u00a0\u00a0\u00a0\u00a0virtio0-request","cur":"1.30\u00a0","min":"0.00\u00a0","avg":"15.26\u00a0","max":"498.11\u00a0"},
{"n":12,"s":"R2","lab":"32772-edge\u00a0\u00a0\u00a0\u00a0\u00a0\u00a0virtio0-request","cur":"673.58m","min":"0.00\u00a0","avg":"12.80\u00a0","max":"363.14\u00a0"},
{"n":13,"s":"AHCI","lab":"512000-edge\u00a0\u00a0\u00a0\u00a0\u00a0\u00a0ahci[0000:00:1f.2]","cur":"0.00\u00a0","min":"0.00\u00a0","avg":"5.38\u00a0","max":"177.72\u00a0"},
{"n":14,"s":"CFG1","lab":"49152-edge\u00a0\u00a0\u00a0\u00a0\u00a0\u00a0virtio1-config","cur":"0.00\u00a0","min":"0.00\u00a0","avg":"8.21\u00a0","max":"158.88\u00a0"},
{"n":15,"s":"I0","lab":"49153-edge\u00a0\u00a0\u00a0\u00a0\u00a0\u00a0virtio1-input.0","cur":"61.18\u00a0","min":"0.00\u00a0","avg":"29.92\u00a0","max":"235.98\u00a0"},
{"n":16,"s":"O0","lab":"49154-edge\u00a0\u00a0\u00a0\u00a0\u00a0\u00a0virtio1-output.0","cur":"73.69\u00a0","min":"0.00\u00a0","avg":"33.08\u00a0","max":"256.95\u00a0"},
{"n":17,"s":"I1","lab":"49155-edge\u00a0\u00a0\u00a0\u00a0\u00a0\u00a0virtio1-input.1","cur":"54.90\u00a0","min":"0.00\u00a0","avg":"26.04\u00a0","max":"159.39\u00a0"},
{"n":18,"s":"O1","lab":"49156-edge\u00a0\u00a0\u00a0\u00a0\u00a0\u00a0virtio1-output.1","cur":"49.41\u00a0","min":"0.00\u00a0","avg":"17.18\u00a0","max":"170.63\u00a0"},
{"n":19,"s":"I2","lab":"49157-edge\u00a0\u00a0\u00a0\u00a0\u00a0\u00a0virtio1-input.2","cur":"0.00\u00a0","min":"0.00\u00a0","avg":"0.00\u00a0","max":"0.00\u00a0"},
{"n":20,"s":"O2","lab":"49158-edge\u00a0\u00a0\u00a0\u00a0\u00a0\u00a0virtio1-output.2","cur":"0.00\u00a0","min":"0.00\u00a0","avg":"12.48\u00a0","max":"160.00\u00a0"},
{"n":21,"s":"I3","lab":"49159-edge\u00a0\u00a0\u00a0\u00a0\u00a0\u00a0virtio1-input.3","cur":"0.00\u00a0","min":"0.00\u00a0","avg":"15.18\u00a0","max":"244.90\u00a0"},
{"n":22,"s":"O3","lab":"49160-edge\u00a0\u00a0\u00a0\u00a0\u00a0\u00a0virtio1-output.3","cur":"0.00\u00a0","min":"0.00\u00a0","avg":"11.69\u00a0","max":"154.34\u00a0"},
{"n":23,"s":"I4","lab":"49161-edge\u00a0\u00a0\u00a0\u00a0\u00a0\u00a0virtio1-input.4","cur":"0.00\u00a0","min":"0.00\u00a0","avg":"10.36\u00a0","max":"164.07\u00a0"},
{"n":24,"s":"O4","lab":"49162-edge\u00a0\u00a0\u00a0\u00a0\u00a0\u00a0virtio1-output.4","cur":"0.00\u00a0","min":"0.00\u00a0","avg":"0.00\u00a0","max":"0.00\u00a0"},
{"n":25,"s":"I5","lab":"49163-edge\u00a0\u00a0\u00a0\u00a0\u00a0\u00a0virtio1-input.5","cur":"0.00\u00a0","min":"0.00\u00a0","avg":"0.00\u00a0","max":"0.00\u00a0"},
{"n":26,"s":"O5","lab":"49164-edge\u00a0\u00a0\u00a0\u00a0\u00a0\u00a0virtio1-output.5","cur":"0.00\u00a0","min":"0.00\u00a0","avg":"0.00\u00a0","max":"0.00\u00a0"},
{"n":27,"s":"I6","lab":"49165-edge\u00a0\u00a0\u00a0\u00a0\u00a0\u00a0virtio1-input.6","cur":"0.00\u00a0","min":"0.00\u00a0","avg":"37.31m","max":"23.95\u00a0"},
{"n":28,"s":"O6","lab":"49166-edge\u00a0\u00a0\u00a0\u00a0\u00a0\u00a0virtio1-output.6","cur":"0.00\u00a0","min":"0.00\u00a0","avg":"97.95m","max":"53.42\u00a0"},
{"n":29,"s":"I7","lab":"49167-edge\u00a0\u00a0\u00a0\u00a0\u00a0\u00a0virtio1-input.7","cur":"0.00\u00a0","min":"0.00\u00a0","avg":"168.29m","max":"36.17\u00a0"},
{"n":30,"s":"O7","lab":"49168-edge\u00a0\u00a0\u00a0\u00a0\u00a0\u00a0virtio1-output.7","cur":"0.00\u00a0","min":"0.00\u00a0","avg":"78.02m","max":"27.16\u00a0"},
{"n":31,"s":"NMI","lab":"Non-maskable interrupts","cur":"0.00\u00a0","min":"0.00\u00a0","avg":"0.00\u00a0","max":"0.00\u00a0"},
{"n":32,"s":"LOC","lab":"Local timer interrupts","cur":"223.86\u00a0","min":"32.54\u00a0","avg":"229.08\u00a0","max":"1.01k"},
{"n":33,"s":"SPU","lab":"Spurious interrupts","cur":"0.00\u00a0","min":"0.00\u00a0","avg":"0.00\u00a0","max":"0.00\u00a0"},
{"n":34,"s":"PMI","lab":"Performance monitoring interrupts","cur":"0.00\u00a0","min":"0.00\u00a0","avg":"0.00\u00a0","max":"0.00\u00a0"},
{"n":35,"s":"IWI","lab":"IRQ work interrupts","cur":"0.00\u00a0","min":"0.00\u00a0","avg":"202.65n","max":"3.04m"},
{"n":36,"s":"RTR","lab":"APIC ICR read retries","cur":"0.00\u00a0","min":"0.00\u00a0","avg":"0.00\u00a0","max":"0.00\u00a0"},
{"n":37,"s":"RES","lab":"Rescheduling interrupts","cur":"4.85\u00a0","min":"683.27m","avg":"4.13\u00a0","max":"76.12\u00a0"},
{"n":38,"s":"CAL","lab":"Function call interrupts","cur":"93.22\u00a0","min":"6.27\u00a0","avg":"91.25\u00a0","max":"523.33\u00a0"},
{"n":39,"s":"TLB","lab":"TLB shootdowns","cur":"673.93m","min":"0.00\u00a0","avg":"648.29m","max":"77.57\u00a0"},
{"n":40,"s":"TRM","lab":"Thermal event interrupts","cur":"0.00\u00a0","min":"0.00\u00a0","avg":"0.00\u00a0","max":"0.00\u00a0"},
{"n":41,"s":"THR","lab":"Threshold APIC interrupts","cur":"0.00\u00a0","min":"0.00\u00a0","avg":"0.00\u00a0","max":"0.00\u00a0"},
{"n":42,"s":"DFR","lab":"Deferred Error APIC interrupts","cur":"0.00\u00a0","min":"0.00\u00a0","avg":"0.00\u00a0","max":"0.00\u00a0"},
{"n":43,"s":"MCE","lab":"Machine check exceptions","cur":"0.00\u00a0","min":"0.00\u00a0","avg":"0.00\u00a0","max":"0.00\u00a0"},
{"n":44,"s":"MCP","lab":"Machine check polls","cur":"6.42m","min":"0.00\u00a0","avg":"6.42m","max":"12.08m"},
{"n":45,"s":"HYP","lab":"Hypervisor callback interrupts","cur":"0.00\u00a0","min":"0.00\u00a0","avg":"125.32u","max":"4.09\u00a0"},
{"n":46,"s":"ERR","lab":"ERR","cur":"0.00\u00a0","min":"0.00\u00a0","avg":"0.00\u00a0","max":"0.00\u00a0"},
{"n":47,"s":"MIS","lab":"MIS","cur":"0.00\u00a0","min":"0.00\u00a0","avg":"0.00\u00a0","max":"0.00\u00a0"},
{"n":48,"s":"PIN","lab":"Posted-interrupt notification event","cur":"0.00\u00a0","min":"0.00\u00a0","avg":"0.00\u00a0","max":"0.00\u00a0"},
{"n":49,"s":"NPI","lab":"Nested posted-interrupt event","cur":"0.00\u00a0","min":"0.00\u00a0","avg":"0.00\u00a0","max":"0.00\u00a0"},
{"n":50,"s":"PIW","lab":"Posted-interrupt wakeup event","cur":"0.00\u00a0","min":"0.00\u00a0","avg":"0.00\u00a0","max":"0.00\u00a0"}
]
},
"layer": [
{
"encoding": {"x": {"field": "t", "type": "temporal",
  "scale": {"type": "utc", "domain": [{"year": 2025, "month": 4, "date": 16, "hours": 20, "minutes": 25, "utc": true}, {"year": 2026, "month": 5, "date": 21, "hours": 20, "minutes": 25, "utc": true}]},
  "axis": {"title": null, "values": [{"year": 2025, "month": 7, "date": 16, "utc": true}, {"year": 2025, "month": 10, "date": 16, "utc": true}, {"year": 2026, "month": 1, "date": 16, "utc": true}, {"year": 2026, "month": 4, "date": 16, "utc": true}],
    "format": "%B %Y", "grid": false, "ticks": false, "domainColor": "#c6cbe6", "labelFont": "DejaVu Sans", "labelFontSize": 9.5, "labelColor": "#555555", "labelPadding": 4, "labelFlush": false, "labelOverlap": false, "zindex": 1}}},
"layer": [
  {"data": {"name": "weeks"}, "mark": {"type": "rule", "color": "#d4d4d4", "strokeDash": [1, 2], "strokeWidth": 1}},
  {"data": {"name": "months"}, "mark": {"type": "rule", "color": "#eeaaaa", "strokeDash": [1, 2], "strokeWidth": 1}},
  {"data": {"name": "series"}, "mark": {"type": "line", "strokeWidth": 1, "clip": true},
   "encoding": {
     "y": {"field": "v", "type": "quantitative",
       "scale": {"type": "log", "domain": [0.000001, 631], "nice": false, "clamp": true},
       "axis": {"title": "interrupts / second", "values": [0.000001, 0.00001, 0.0001, 0.001, 0.01, 0.1, 1, 10, 100],
         "labelExpr": "datum.value == 1 ? '1e+00' : (datum.value == 0.001 ? '1e-03' : (datum.value == 0.000001 ? '1e-06' : ''))",
         "grid": true, "gridDash": [1, 2],
         "gridColor": {"condition": {"test": "datum.value == 1 || datum.value == 0.001", "value": "#efb0b0"}, "value": "#d4d4d4"},
         "ticks": false, "domainColor": "#c6cbe6", "labelFont": "DejaVu Sans", "labelFontSize": 9.5, "labelColor": "#555555", "labelPadding": 6,
         "titleFont": "DejaVu Sans", "titleFontSize": 11, "titleFontWeight": "normal", "titleColor": "#555555", "titleX": -50, "zindex": 1}},
     "color": {"field": "s", "type": "nominal", "legend": null,
       "scale": {"domain": ["TIMER","KBD","TTY","RTC","ACPI","MOUSE","SMB","CFG0","CTL","EV","RQ","R2","AHCI","CFG1","I0","O0","I1","O1","I2","O2","I3","O3","I4","O4","I5","O5","I6","O6","I7","O7","NMI","LOC","SPU","PMI","IWI","RTR","RES","CAL","TLB","TRM","THR","DFR","MCE","MCP","HYP","ERR","MIS","PIN","NPI","PIW"],
         "range": ["#00CC00","#0066B3","#FF8000","#FFCC00","#330099","#990099","#CCFF00","#FF0000","#808080","#008F00","#00487D","#B35A00","#B38F00","#6B006B","#8FB300","#B30000","#BEBEBE","#80FF80","#80C9FF","#FFC080","#FFE680","#AA80FF","#EE00CC","#FF8080","#666600","#FFBFFF","#00FFCC","#CC6699","#999900","#00CC00","#0066B3","#FF8000","#FFCC00","#330099","#990099","#CCFF00","#FF0000","#808080","#008F00","#00487D","#B35A00","#B38F00","#6B006B","#8FB300","#B30000","#BEBEBE","#80FF80","#80C9FF","#FFC080","#FFE680"]}}
   }}
]
},
{
"data": {"name": "legend"},
"layer": [
  {"mark": {"type": "square", "size": 36, "opacity": 1},
   "encoding": {"x": {"value": -50},
     "y": {"field": "n", "type": "quantitative", "scale": {"domain": [0, 52], "range": [200.3, 824.3], "nice": false, "zero": false}, "axis": null},
     "color": {"field": "s", "type": "nominal", "legend": null,
       "scale": {"domain": ["TIMER","KBD","TTY","RTC","ACPI","MOUSE","SMB","CFG0","CTL","EV","RQ","R2","AHCI","CFG1","I0","O0","I1","O1","I2","O2","I3","O3","I4","O4","I5","O5","I6","O6","I7","O7","NMI","LOC","SPU","PMI","IWI","RTR","RES","CAL","TLB","TRM","THR","DFR","MCE","MCP","HYP","ERR","MIS","PIN","NPI","PIW"],
         "range": ["#00CC00","#0066B3","#FF8000","#FFCC00","#330099","#990099","#CCFF00","#FF0000","#808080","#008F00","#00487D","#B35A00","#B38F00","#6B006B","#8FB300","#B30000","#BEBEBE","#80FF80","#80C9FF","#FFC080","#FFE680","#AA80FF","#EE00CC","#FF8080","#666600","#FFBFFF","#00FFCC","#CC6699","#999900","#00CC00","#0066B3","#FF8000","#FFCC00","#330099","#990099","#CCFF00","#FF0000","#808080","#008F00","#00487D","#B35A00","#B38F00","#6B006B","#8FB300","#B30000","#BEBEBE","#80FF80","#80C9FF","#FFC080","#FFE680"]}}}},
  {"mark": {"type": "text", "align": "left", "baseline": "middle", "font": "DejaVu Sans Mono", "fontSize": 10, "color": "#4a4a4a"},
   "encoding": {"x": {"value": -41}, "y": {"field": "n", "type": "quantitative"}, "text": {"field": "lab"}}},
  {"transform": [{"fold": ["cur", "min", "avg", "max"], "as": ["k", "val"]}],
   "mark": {"type": "text", "align": "right", "baseline": "middle", "font": "DejaVu Sans Mono", "fontSize": 10, "color": "#4a4a4a"},
   "encoding": {"x": {"field": "k", "type": "nominal", "scale": {"type": "point", "domain": ["cur", "min", "avg", "max"], "range": [234.5, 415.7], "padding": 0}, "axis": null},
     "y": {"field": "n", "type": "quantitative"}, "text": {"field": "val"}}},
  {"data": {"values": [{"k": "cur", "h": "Cur:"}, {"k": "min", "h": "Min:"}, {"k": "avg", "h": "Avg:"}, {"k": "max", "h": "Max:"}]},
   "mark": {"type": "text", "align": "right", "baseline": "middle", "dx": -12, "font": "DejaVu Sans Mono", "fontSize": 10, "color": "#4a4a4a"},
   "encoding": {"x": {"field": "k", "type": "nominal"}, "y": {"datum": 0, "type": "quantitative"}, "text": {"field": "h"}}},
  {"data": {"values": [{"k": "max", "h": "Last update: Thu May 21 20:25:28 2026"}]},
   "mark": {"type": "text", "align": "right", "baseline": "middle", "font": "DejaVu Sans Mono", "fontSize": 10, "color": "#4a4a4a"},
   "encoding": {"x": {"field": "k", "type": "nominal"}, "y": {"datum": 51, "type": "quantitative"}, "text": {"field": "h"}}},
  {"data": {"values": [{"h": "Munin 2.0.57"}]},
   "mark": {"type": "text", "align": "center", "baseline": "middle", "font": "DejaVu Sans", "fontSize": 7, "color": "#c0c0c0"},
   "encoding": {"x": {"value": 181.5}, "y": {"datum": 52, "type": "quantitative"}, "text": {"field": "h"}}},
  {"data": {"values": [{"h": "RRDTOOL / TOBI OETIKER"}]},
   "mark": {"type": "text", "align": "left", "baseline": "middle", "angle": 90, "font": "DejaVu Sans", "fontSize": 7, "color": "#c4c4c4"},
   "encoding": {"x": {"value": 423}, "y": {"value": -12}, "text": {"field": "h"}}},
  {"data": {"values": [{"h": "Individual interrupts - by year"}]},
   "mark": {"type": "text", "align": "center", "baseline": "alphabetic", "font": "DejaVu Sans", "fontSize": 12.5, "color": "#555555"},
   "encoding": {"x": {"value": 181.5}, "y": {"value": -3}, "text": {"field": "h"}}},
  {"data": {"values": [{"a": "y"}]},
   "mark": {"type": "point", "shape": "triangle-up", "filled": true, "size": 22, "color": "#c6cbe6", "opacity": 1},
   "encoding": {"x": {"value": 0}, "y": {"value": -4}}},
  {"data": {"values": [{"a": "x"}]},
   "mark": {"type": "point", "shape": "triangle-right", "filled": true, "size": 22, "color": "#c6cbe6", "opacity": 1},
   "encoding": {"x": {"value": 404}, "y": {"value": 176}}}
]
}
],
"resolve": {"scale": {"x": "independent", "y": "independent"}}
}
